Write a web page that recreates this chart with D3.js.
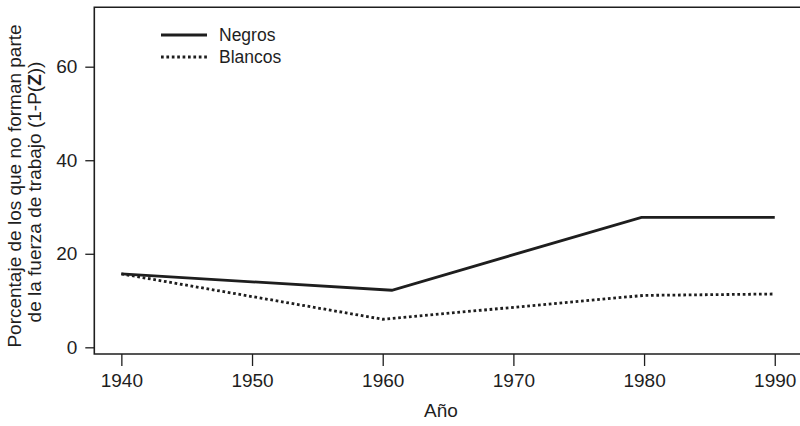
<!DOCTYPE html>
<html>
<head>
<meta charset="utf-8">
<script src="https://cdn.jsdelivr.net/npm/d3@7/dist/d3.min.js"></script>
<style>
  html, body { margin: 0; padding: 0; background: #fff; }
  svg { display: block; font-family: "Liberation Sans", Arial, Helvetica, sans-serif; }
</style>
</head>
<body>
<svg id="chart" width="800" height="426"></svg>
<script>
// Share of the population outside the labour force, by race
const negrosYears  = [1940, 1960.7, 1979.8, 1990];
const negrosValues = [15.7, 12.2, 27.8, 27.8];
const blancosYears  = [1940, 1960, 1980, 1990];
const blancosValues = [15.7, 6.0, 11.1, 11.4];
const xTicks = [1940, 1950, 1960, 1970, 1980, 1990];
const yTicks = [0, 20, 40, 60];
const seriesNames = ["Negros", "Blancos"];

(function draw() {
  const ink = "#1e1e1e";
  const svg = d3.select("#chart");

  const plotLeft = 94.3, plotRight = 801, plotTop = 7.3, plotBottom = 354;

  const x = d3.scaleLinear().domain([1937.93, 1992.0])
    .range([plotLeft, plotLeft + (1992.0 - 1937.93) * 13.068]);
  const y = d3.scaleLinear().domain([-1.43, 72.7]).range([plotBottom, plotTop]);

  // Plot frame (right side runs off the canvas)
  svg.append("path")
    .attr("d", `M${plotRight},${plotTop}H${plotLeft}V${plotBottom}H${plotRight}`)
    .attr("fill", "none").attr("stroke", ink).attr("stroke-width", 1.6);

  // Axes
  const xAxis = svg.append("g")
    .attr("transform", `translate(0,${plotBottom})`)
    .call(d3.axisBottom(x).tickValues(xTicks).tickFormat(d3.format("d")).tickSize(12).tickPadding(8));
  const yAxis = svg.append("g")
    .attr("transform", `translate(${plotLeft},0)`)
    .call(d3.axisLeft(y).tickValues(yTicks).tickSize(9).tickPadding(8));
  [xAxis, yAxis].forEach(g => {
    g.select(".domain").remove();
    g.selectAll(".tick line").attr("stroke", ink).attr("stroke-width", 1.3);
    g.selectAll(".tick text").attr("fill", ink).style("font-size", "19px")
      .style("font-family", '"Liberation Sans", Arial, sans-serif');
  });

  // Series lines
  const line = d3.line().x(d => x(d[0])).y(d => y(d[1]));
  const negros = d3.zip(negrosYears, negrosValues);
  const blancos = d3.zip(blancosYears, blancosValues);

  svg.append("path").datum(blancos)
    .attr("d", line).attr("fill", "none").attr("stroke", ink)
    .attr("stroke-width", 2.8).attr("stroke-dasharray", "2.7,2.7");
  svg.append("path").datum(negros)
    .attr("d", line).attr("fill", "none").attr("stroke", ink)
    .attr("stroke-width", 2.8).attr("stroke-linejoin", "miter");

  // Legend
  const legend = svg.append("g");
  const legendRows = [
    { name: seriesNames[0], dash: null, y: 35 },
    { name: seriesNames[1], dash: "2.7,2.7", y: 57 }
  ];
  legendRows.forEach(r => {
    legend.append("line")
      .attr("x1", 161).attr("x2", 207).attr("y1", r.y).attr("y2", r.y)
      .attr("stroke", ink).attr("stroke-width", 2.8)
      .attr("stroke-dasharray", r.dash);
    legend.append("text")
      .attr("x", 219).attr("y", r.y + 6)
      .attr("fill", ink).style("font-size", "17.5px")
      .text(r.name);
  });

  // Axis titles
  svg.append("text")
    .attr("x", 441).attr("y", 417)
    .attr("text-anchor", "middle").attr("fill", ink).style("font-size", "19px")
    .text("Año");

  const yTitle = svg.append("text")
    .attr("transform", "rotate(-90)")
    .attr("text-anchor", "middle").attr("fill", ink).style("font-size", "19px");
  yTitle.append("tspan").attr("x", -186).attr("y", 21)
    .text("Porcentaje de los que no forman parte");
  const l2 = yTitle.append("tspan").attr("x", -192).attr("y", 41);
  l2.append("tspan").text("de la fuerza de trabajo (1-P(");
  l2.append("tspan").style("font-weight", "bold").text("Z");
  l2.append("tspan").text("))");
})();
</script>
</body>
</html>
